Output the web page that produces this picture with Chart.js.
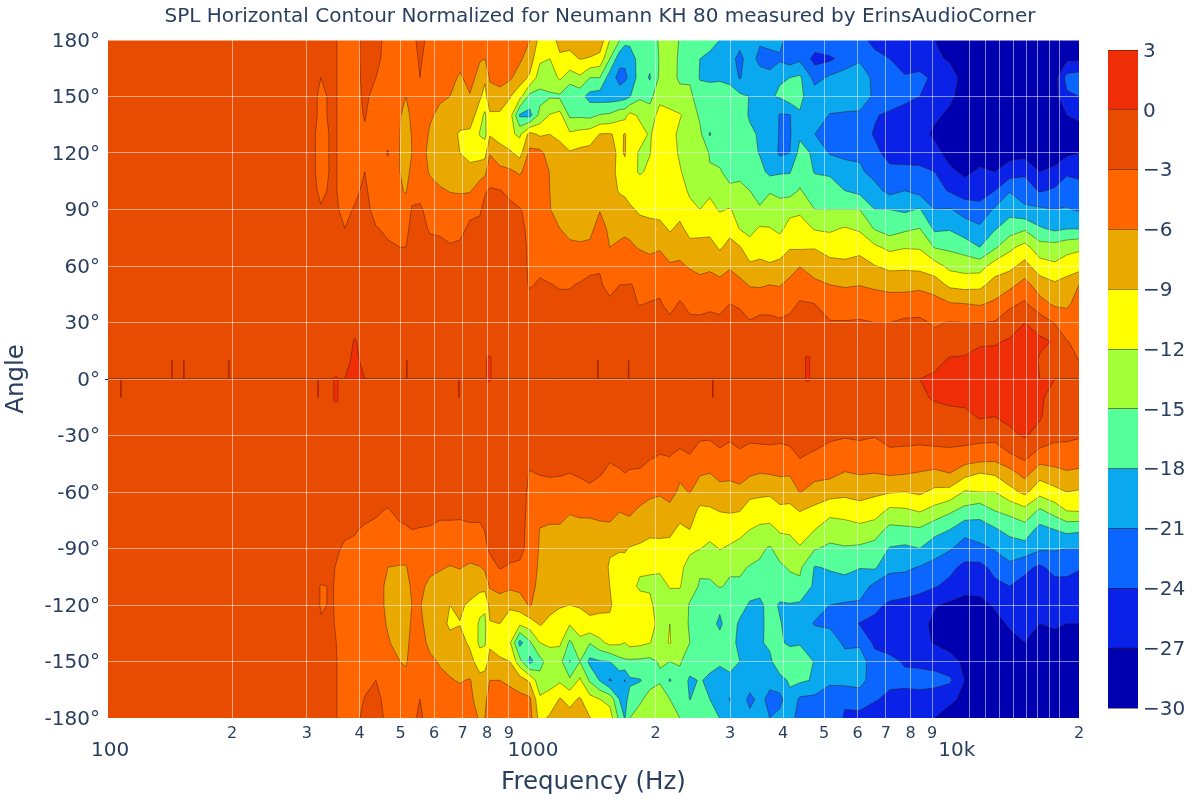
<!DOCTYPE html>
<html>
<head>
<meta charset="utf-8">
<title>SPL Horizontal Contour</title>
<script src="https://cdn.jsdelivr.net/npm/chart.js@4"></script>
<style>
    body { margin: 0; background: #fff; }
    #contour { position: absolute; left: 0; top: 0; }
    #colorbar { position: absolute; left: 1100px; top: 0; }
</style>
</head>
<body>
<canvas id="contour" width="1200" height="800"></canvas>
<canvas id="colorbar" width="100" height="800"></canvas>
<script>
const titleText = "SPL Horizontal Contour Normalized for Neumann KH 80 measured by ErinsAudioCorner";
const textColor = "#2a3f5f";
const fontFamily = "'DejaVu Sans', Verdana, sans-serif";

const levels = [-30, -27, -24, -21, -18, -15, -12, -9, -6, -3, 0, 3];
const bandColors = ["#0000b0", "#0a22e8", "#0a66ff", "#0aa8ee", "#55ff99", "#a2ff38", "#ffff00", "#eaa900", "#ff6600", "#e84c00", "#ef2d07"];

const angles = [180, 170, 160, 150, 140, 130, 120, 110, 100, 90, 80, 70, 60, 50, 40, 30, 20, 10, 0,
    -10, -20, -30, -40, -50, -60, -70, -80, -90, -100, -110, -120, -130, -140, -150, -160, -170, -180];

const freqs = [101.8, 305.1, 324, 345.8, 369.2, 389.8, 411.5, 436.9, 466.4, 497.9, 514.4, 531.5, 555.2,
    586.2, 619, 653.5, 690, 728.6, 769.2, 790.4, 812.1, 857.4, 905.3, 955.9, 1009, 1066, 1125, 1188, 1254,
    1325, 1399, 1477, 1559, 1646, 1692, 1738, 1836, 1938, 2046, 2161, 2282, 2409, 2544, 2686, 2836, 2995,
    3162, 3339, 3526, 3722, 3930, 4150, 4382, 4753, 5157, 5595, 6071, 6587, 7146, 7754, 8412, 9127, 9903,
    10744, 11658, 12650, 13720, 14890, 16160, 17530, 18710, 20000];

// one line per frequency, angle order as in angles
const spl = [
    [-2,-2,-2,-2,-2,-2,-2,-2,-2,-2,-2,-2,-2,-2,-2,-2,-2,-2,0,-2,-2,-2,-2,-2,-2,-2,-2,-2,-2,-2,-2,-2,-2,-2,-2,-2,-2],
    [-2,-2,-2,-2,-2,-2,-2,-2,-2,-2,-2,-2,-2,-2,-2,-2,-2,-2,0,-2,-2,-2,-2,-2,-2,-2,-2,-2,-2,-2,-2,-2,-2,-2,-2,-2,-2],
    [-2,-2,-3,-3.5,-3.5,-4,-4,-4,-3.5,-2.8,-2,-2,-2,-2,-2,-2,-2,-2,0,-2,-2,-2,-2,-2,-2,-2,-2,-2,-2,-3.1,-3.1,-2.9,-2,-2,-2,-2,-2],
    [-2.5,-2.5,-2.5,-2.5,-2.5,-2.5,-2.5,-2.5,-2.5,-2.5,-2,-2,-2,-2,-2,-2,-2,-2,0,-2,-2,-2,-2,-2,-2,-2,-2,-2.5,-2.8,-2.9,-2.9,-2.8,-2.6,-2.5,-2.5,-2.5,-2.5],
    [-4,-4,-4,-4,-4,-4,-4,-4,-4,-3.5,-3,-2.5,-2,-2,-2,-2,-2,-2,0,-2,-2,-2,-2,-2,-2,-2,-2.6,-3.3,-4,-4.5,-4.5,-4.5,-4,-4,-4,-4,-4],
    [-4,-4,-4,-4,-4,-4,-4,-4,-3.5,-2.8,-2.5,-2,-2,-2,-2,-2,0.4,1.5,0,-2,-2,-2,-2,-2,-2,-2,-2.8,-3.5,-4.5,-4.5,-4.5,-4.5,-4.5,-4.5,-4,-3.8,-3.5],
    [-2,-2,-2.2,-2.5,-2.8,-3.4,-3.2,-3,-2.5,-2.4,-2,-2,-2,-2,-2,-2,-2,-2,0,-2,-2,-2,-2,-2,-2,-2,-3.4,-4,-5,-5,-5,-5,-5,-5,-3.5,-2.9,-2.5],
    [-2,-2.3,-3,-3.8,-4.5,-4.5,-4.5,-4.5,-4.5,-3.6,-2.9,-2.4,-2,-2,-2,-2,-2,-2,0,-2,-2,-2,-2,-2,-2,-2.7,-3.5,-4.5,-5,-5,-5,-5,-5,-3.4,-3,-2.6,-2.5],
    [-4,-4,-4,-4,-4,-4,-2.8,-4,-4,-3.8,-3.3,-2.8,-2.3,-2,-2,-2,-2,-2,0,-2,-2,-2,-2,-2,-2,-3.2,-3.8,-5,-6,-6.5,-6.5,-6.2,-5.8,-5,-4,-3.5,-3.3],
    [-5,-5,-5,-5.3,-5.8,-6,-6.1,-6,-5.6,-4.5,-3.8,-3,-2.4,-2,-2,-2,-2,-2,0,-2,-2,-2,-2,-2,-2,-2.3,-3.5,-4.5,-6.2,-7,-7.5,-7.3,-6.8,-6,-5,-4.5,-4],
    [-4.5,-4.5,-5,-6,-7,-7.5,-7.5,-7,-6.3,-4.5,-3.5,-3,-2.4,-2,-2,-2,-2,-2,0,-2,-2,-2,-2,-2,-2,-2.4,-3.2,-4.5,-6.2,-7.2,-8,-7.5,-7,-6.4,-5,-4.5,-4],
    [-3.5,-4,-4.2,-4.5,-5.4,-5.8,-6,-5.3,-3.8,-2.8,-2.5,-2.3,-2,-2,-2,-2,-2,-2,0,-2,-2,-2,-2,-2,-2,-2.2,-3,-4.2,-5,-5.5,-6,-5.5,-5,-4.5,-4.2,-3.6,-3.5],
    [-2.5,-2.7,-3,-3.6,-4.2,-4.5,-5,-4.5,-3.4,-2.8,-2.4,-2,-2,-2,-2,-2,-2,-2,0,-2,-2,-2,-2,-2,-2,-2.2,-3.1,-4,-5,-5.5,-5.8,-5.5,-5,-4.5,-4,-3,-2.6],
    [-3.5,-4,-4.5,-5,-5.7,-6.3,-6.6,-6.3,-5,-3.5,-3.2,-2.5,-2,-2,-2,-2,-2,-2,0,-2,-2,-2,-2,-2,-2,-2.2,-3.2,-4.5,-5.5,-6.5,-7.5,-7,-6.6,-5.5,-5,-4.5,-4],
    [-4,-4.5,-5,-5.7,-6.5,-7.3,-7.5,-7,-5.7,-4.3,-3.3,-2.6,-2,-2,-2,-2,-2,-2,0,-2,-2,-2,-2,-2,-2,-2.5,-3.5,-4.5,-5.8,-6.8,-7.5,-7.8,-7,-6.2,-5.5,-5,-4.6],
    [-4.5,-5,-5.5,-6,-7,-8,-8.5,-7.5,-6.1,-5,-3.8,-2.8,-2.5,-2,-2,-2,-2,-2,0,-2,-2,-2,-2,-2,-2,-2.4,-3.6,-5,-6.1,-7,-9,-9.5,-8,-6.8,-5.8,-5,-4.6],
    [-5,-5.5,-6.2,-6.5,-7.8,-9.3,-9,-8,-6.2,-5,-3.5,-2.7,-2.2,-2,-2,-2,-2,-2,0,-2,-2,-2,-2,-2,-2,-2.3,-3.8,-5,-5.9,-7,-8.5,-9.1,-8,-7,-6.2,-5,-4.5],
    [-5,-5.5,-5.5,-6.1,-7,-9.8,-10,-8,-6.3,-3.4,-2.7,-2.5,-2,-2,-2,-2,-2,-2,0,-2,-2,-2,-2,-2,-2,-2.2,-3.5,-5,-6.3,-7.5,-9.5,-9.8,-9.5,-8,-5.8,-5.5,-4.8],
    [-5.8,-5.9,-6.5,-8.5,-11,-12.2,-10,-7.5,-4.2,-3.2,-2.6,-2.2,-2,-2,-2,-2,-2,-2,0,-2,-2,-2,-2,-2,-2,-2.2,-3.5,-4.5,-6.1,-8,-11,-12.5,-12.6,-10.5,-8,-7,-6.3],
    [-6,-6,-8.5,-10,-12.5,-12.8,-10,-6.8,-3.2,-2.5,-2.3,-2,-2,-2,-2,-2,-2,-2,0,-2,-2,-2,-2,-2,-2,-2,-2.9,-3.5,-5.5,-8,-11.5,-12.6,-12.3,-10.5,-7.5,-6.5,-6],
    [-5.8,-5.5,-5.7,-7,-9.5,-9.3,-6.2,-4,-2.8,-2.5,-2,-2,-2,-2,-2,-2,-2,-2,0,-2,-2,-2,-2,-2,-2,-2,-2.5,-2.6,-4,-5.7,-8,-9.2,-9.5,-8,-6,-5,-5],
    [-4.5,-4.8,-5,-7,-9.5,-10.5,-7.5,-5.3,-2.9,-2.5,-2,-2,-2,-2,-2,-2,-2,-2,0,-2,-2,-2,-2,-2,-2,-2,-2,-2,-2.8,-5,-7.5,-9,-10.5,-8.5,-6,-5,-4.5],
    [-4,-4,-5.5,-8.8,-10.5,-11.5,-8.5,-5.5,-3.5,-2.5,-2,-2,-2,-2,-2,-2,-2,-2,0,-2,-2,-2,-2,-2,-2,-2,-2,-2,-3.3,-5.4,-8.5,-10.5,-11.5,-9,-6.5,-5,-4.6],
    [-5,-5.5,-7.5,-11,-18.5,-12.5,-10,-6.4,-4,-2.9,-2.5,-2,-2,-2,-2,-2,-2,-2,0,-2,-2,-2,-2,-2,-2,-2,-2.2,-2.2,-3.5,-5.2,-7.5,-11.5,-19,-14,-7.5,-5.2,-4.5],
    [-6,-7.5,-9.5,-16,-19,-8,-5.3,-4.5,-3.5,-3.5,-3.5,-3.5,-3.4,-3.2,-2.2,-2,-2,-2,0,-2,-2,-2,-2.5,-3.1,-3.5,-3.7,-3.8,-4,-4.5,-5,-5.7,-10.5,-15.5,-19,-9.5,-5.5,-5],
    [-10,-11.5,-13.5,-16,-14,-9.5,-5.2,-4.3,-3.9,-3.7,-3.6,-3.5,-3.5,-2.7,-2.4,-2,-2,-2,0,-2,-2,-2,-2,-2.9,-3.8,-5,-6.1,-6.3,-6.5,-6.8,-7.5,-8.7,-12,-16,-14,-11.5,-10],
    [-10.5,-12,-14,-15.3,-11.8,-9,-7.3,-6.1,-6,-5.9,-5,-4.4,-3.9,-2.9,-2.3,-2,-2,-2,0,-2,-2,-2,-2,-2.8,-3.7,-5,-6.4,-7,-7.3,-7.5,-8,-9.8,-11.5,-13.5,-13,-11,-8.5],
    [-8,-9.5,-11.5,-15.5,-11,-9.5,-8.2,-8,-7.6,-7,-6,-4.5,-4,-3.2,-2.4,-2,-2,-2,0,-2,-2,-2,-2,-2.9,-3.5,-5.5,-6.2,-7.5,-8,-8.5,-8.8,-10,-11.5,-14,-12.5,-8.8,-8.2],
    [-8,-9.8,-13.5,-17.8,-15.5,-11.5,-8.7,-8.2,-8,-7.5,-6.6,-5.6,-4.6,-3.2,-2.3,-2,-2,-2,0,-2,-2,-2,-2.2,-3,-3.8,-5.8,-6.8,-7.5,-7.8,-8,-9,-11.8,-15.5,-18.2,-14.5,-9.8,-8],
    [-7.5,-8.9,-12.5,-17,-15.5,-11,-8.2,-7.5,-7.3,-7.2,-7,-5.6,-4.2,-2.8,-2.3,-2,-2,-2,0,-2,-2,-2,-2.2,-2.8,-3.6,-5.4,-7,-8,-8,-8.2,-8.8,-10,-13,-15,-11.5,-8.7,-8],
    [-7,-9.2,-15,-19,-15.8,-10.5,-8,-7.5,-7.2,-7,-7,-5.3,-3.5,-2.5,-2.3,-2,-2,-2,0,-2,-2,-2,-2,-2.4,-3.5,-5.5,-6.8,-8,-8.2,-8.2,-8.5,-9.4,-14.8,-18.8,-15.4,-11,-8.9],
    [-7,-10,-15,-19.5,-14.8,-8.9,-8,-7.5,-7.2,-6.2,-4.5,-4,-3.2,-2.7,-2.2,-2,-2,-2,0,-2,-2,-2,-2,-2.8,-4,-5.3,-6.6,-7.6,-8,-8.3,-8.6,-9.5,-12.8,-18.2,-18.2,-12,-9.8],
    [-12,-15,-19.5,-19.5,-14.5,-8.8,-8,-7.8,-7.8,-7,-6.8,-6,-4.9,-3.8,-2.5,-2,-2,-2,0,-2,-2,-2,-2.6,-3.5,-5,-5.7,-6.2,-8.8,-9.2,-9,-8.8,-9.3,-11.2,-18,-21.3,-13,-10.5],
    [-15,-20,-22,-19.5,-13,-9.6,-9.6,-10,-9.3,-7.5,-6.8,-5.5,-4,-3,-2.5,-2,-2,-2,0,-2,-2,-2,-2.7,-3.1,-5,-5.9,-7.5,-8.8,-9.8,-9.8,-9.8,-10,-11.5,-16,-20,-18.2,-16],
    [-17,-20.5,-21.5,-19,-13,-8.8,-8.7,-10.2,-9.5,-8,-6.6,-5.3,-4.3,-3,-2.5,-2,-2,-2,0,-2,-2,-2,-2.5,-3,-4.8,-5.7,-7.2,-8.7,-10,-10,-10,-10.2,-12,-15.5,-21.2,-19,-18.2],
    [-17,-20,-20.5,-18.2,-11,-10,-10.8,-11,-10.2,-8.5,-6.8,-5.5,-4.6,-2.9,-2.6,-2,-2,-2,0,-2,-2,-2,-2.6,-3.1,-4.5,-5.6,-7,-9.2,-10.5,-11,-10.5,-10.3,-11,-15.5,-18.5,-17,-15],
    [-16.5,-16.5,-16.5,-15.5,-12.5,-11,-12.3,-12.3,-10.5,-9.5,-7.8,-6.3,-4.2,-3.3,-3.1,-2,-2,-2,0,-2,-2,-2,-2.4,-3.2,-4.8,-6.4,-8.2,-9.3,-11.5,-12.5,-10.5,-10,-11.3,-15.6,-18.2,-16,-12.5],
    [-17,-17,-18.3,-16,-13.5,-12.3,-12.1,-11.5,-10.5,-9.6,-8.3,-6.5,-5.2,-3.8,-2.9,-2.2,-2,-2,0,-2,-2,-2,-2.7,-3.7,-5.4,-7,-8.2,-10,-11.8,-12.3,-11.5,-10.8,-11.9,-15.8,-17,-13,-12.5],
    [-14.5,-14.8,-14.5,-12.8,-11,-10.5,-10.5,-11,-10.2,-10,-8.2,-6.3,-4.6,-3.5,-2.8,-2.3,-2,-2,0,-2,-2,-2.2,-3,-3.9,-5.6,-7.5,-8.3,-9.8,-11.5,-13,-13.2,-13,-13,-14.7,-15.5,-12.5,-12.3],
    [-13.5,-13.5,-13.8,-13,-11.5,-11,-11,-10.8,-10,-10.2,-9.3,-7.8,-5.6,-4.2,-3.7,-2.5,-2,-2,0,-2,-2,-2.2,-2.9,-3.7,-5,-6.8,-8.3,-10,-10.5,-11.8,-13.5,-12,-11.8,-15,-18.3,-15,-13.8],
    [-15.2,-15.5,-15.5,-14,-11.8,-12.6,-12.3,-11.8,-10.5,-9.8,-8.5,-6.7,-5.7,-4,-2.8,-2.3,-2,-2,0,-2,-2,-2.3,-3.3,-5.5,-6.5,-7.8,-9.6,-10.5,-11.4,-11.8,-13.5,-13.5,-14,-14.8,-15.6,-16,-15],
    [-16,-17.8,-15.5,-14.2,-13,-13,-13,-13,-12.6,-11,-9.8,-8.3,-6.2,-5,-3.5,-2.6,-2,-2,0,-2,-2,-2.4,-3,-4.6,-5.9,-7.4,-9,-11.5,-13,-14,-15.2,-15.3,-15,-16,-18.6,-18.1,-15.5],
    [-15.5,-18,-18.2,-16.8,-15.5,-14.3,-13.5,-13.3,-13,-12,-10,-8,-6.6,-5.3,-3.6,-2.6,-2.2,-2,0,-2,-2,-2.7,-3.7,-5.8,-7.2,-9.7,-10.8,-11.9,-14.7,-15.2,-15.8,-16,-15.5,-17,-17.8,-16.8,-15.5],
    [-16.5,-19,-18.5,-16.5,-15.8,-18.3,-15.2,-14.8,-12.6,-11,-10,-7.8,-6.5,-4.8,-3.3,-2.6,-2,-2,0,-2,-2,-2.8,-3.6,-6,-7.5,-9.4,-10.8,-12.7,-14,-15.6,-16.2,-17,-17,-17.2,-18.5,-18,-16],
    [-18,-19,-18.3,-16.8,-16,-15.6,-15.7,-14.8,-13.5,-12.3,-10.3,-9.4,-7,-5.3,-3.4,-2.7,-2,-2,0,-2,-2,-2.6,-3.2,-5,-7.2,-8.9,-10.7,-11.9,-13.5,-14.8,-17.5,-18.5,-17,-17.8,-18.6,-18.4,-18.1],
    [-18.2,-20,-18.6,-17,-16.3,-16.2,-16,-15.8,-14.5,-11.8,-10,-8,-6.3,-4.7,-3,-2.6,-2,-2,0,-2,-2,-2.8,-3.4,-5,-7.5,-8.7,-11,-12.3,-14.6,-15.4,-16,-16.5,-17,-17.2,-18.6,-21.2,-19],
    [-20,-21.8,-21.3,-17.3,-16.8,-16.5,-16.3,-15.5,-14.5,-13,-12.2,-8.8,-7.3,-5.2,-3.2,-2.5,-2,-2,0,-2,-2,-2.5,-3.2,-5,-6.7,-8.9,-11.3,-12.8,-14.5,-15.5,-16.8,-18.5,-18.7,-18,-18.5,-19,-19],
    [-19,-19.5,-18.5,-18.1,-18.3,-17.5,-17,-15.5,-15,-14,-13,-10.8,-8.5,-6.2,-4.3,-2.8,-2.3,-2,0,-2,-2,-2.6,-3.6,-5.6,-8,-10.5,-12,-13.5,-15.2,-16.5,-18.4,-18.8,-20.8,-18.2,-19,-22,-20],
    [-20.5,-22,-19.5,-18.5,-18.6,-18.3,-18.2,-17,-16,-14.7,-11.7,-10.2,-8.3,-6.4,-3.6,-2.6,-2,-2,0,-2,-2,-2.5,-3.6,-6,-8.2,-11,-12.4,-14.5,-15.4,-17,-18.6,-18.6,-18.3,-18.3,-19,-20,-20],
    [-20,-22,-20.3,-18.3,-18.1,-18.4,-19,-18.8,-15.2,-13.8,-11.9,-10.3,-8.7,-6,-3.6,-2.6,-2,-2,0,-2,-2,-2.6,-3.4,-5.8,-8.7,-10,-13,-15.3,-16,-16.8,-17,-17.2,-17.5,-18.6,-20,-22,-21],
    [-20,-21.5,-18.2,-17.7,-21.3,-21.3,-21.5,-18.4,-15.2,-14.7,-12.8,-10.2,-8.3,-6.2,-4,-2.7,-2,-2,0,-2,-2,-2.7,-3.4,-5.6,-7.8,-9.6,-11.6,-13.8,-15.5,-16.5,-18.3,-17.8,-17.7,-16,-19,-22,-20],
    [-22.5,-22.5,-18,-16.3,-21.2,-21.3,-21,-18.2,-16,-13,-10.8,-9.2,-7.5,-5,-3.6,-2.5,-2,-2,0,-2,-2,-2.5,-3.4,-5.7,-7.7,-9.8,-11.4,-13.6,-14.7,-16,-18.2,-19,-18.4,-16.5,-17.6,-18.7,-20.5],
    [-22,-21.5,-17.5,-17.5,-18.2,-18.5,-17,-16,-14.8,-12.7,-10.4,-9.4,-6.1,-4,-2.8,-2.4,-2,-2,0,-2,-2,-2,-2.8,-3.7,-5.9,-8.9,-11,-12.2,-14.5,-15.6,-18.5,-19,-18.3,-16,-17.5,-21.5,-21.5],
    [-22,-25,-22,-19.5,-19,-21,-18.5,-18.2,-16.3,-15,-12.3,-9.2,-7,-5.5,-3,-2.6,-2,-2,0,-2,-2,-2.2,-3.2,-5.2,-7,-9.9,-12,-14.8,-18.2,-18.6,-19.5,-21.3,-18.5,-18.2,-18.3,-21.8,-23],
    [-21.5,-24.5,-20.5,-19,-21.2,-22,-21.2,-18.5,-16.5,-15,-12.5,-10.2,-8,-6,-4.5,-2.8,-2.3,-2,0,-2,-2,-2.7,-3.6,-5.2,-7.8,-11,-13.8,-15.5,-17.7,-19.3,-21,-21.5,-19.5,-19.5,-20.3,-23,-21],
    [-22.5,-23,-19.5,-18.8,-21.5,-22,-21.8,-19.5,-18,-15,-11.8,-9.9,-8.5,-6.2,-4.8,-2.8,-2.3,-2,0,-2,-2,-2.9,-3.6,-6.2,-8.4,-10.5,-13.7,-15.2,-17.2,-19.2,-21.3,-22,-21.5,-20,-20,-23.4,-24.5],
    [-23,-21.5,-18.8,-19.5,-21.5,-23,-21.5,-20.5,-18.8,-15,-12.5,-9.8,-8,-6.1,-4,-2.8,-2.3,-2,0,-2,-2,-2.7,-3.8,-5.8,-8.1,-10,-13,-15.5,-17.9,-19.5,-21.5,-24.2,-21.5,-19.5,-20,-22.5,-25],
    [-25,-23,-22,-21.5,-23.8,-24.2,-23.5,-22,-20,-18,-15.3,-11.5,-8.9,-6.4,-4.8,-3,-2.4,-2,0,-2,-2,-2.9,-4,-6,-8.5,-10.5,-13.7,-16,-17.6,-21.8,-23.5,-24.5,-24.6,-22.8,-22.5,-23.6,-26.5],
    [-26,-24,-23,-22.5,-24.5,-25,-24.7,-23.5,-21.9,-18,-16.5,-12.7,-9.7,-7,-4.5,-3,-2.5,-2,0,-2,-2,-2.5,-3.3,-5.6,-8.8,-12.7,-15.8,-18.2,-20.3,-22.5,-24.4,-25,-24.9,-23.5,-23,-25,-26],
    [-25.5,-25,-23.8,-23,-25.5,-26,-25.3,-23.2,-21,-18.5,-15.6,-12.2,-9.5,-7.3,-4,-2.7,-2.3,-2,0,-2,-2,-2.6,-3.3,-5.8,-9,-12.5,-15.6,-18.6,-20.4,-22.8,-24.7,-25.2,-25,-24.2,-23.5,-24.7,-26.5],
    [-26,-25,-23.5,-24,-25.5,-26,-26,-23,-22,-17.8,-15,-12.3,-9.8,-6.9,-3.8,-2.7,-2,-1.5,0,-0.5,-1.5,-2.7,-3.3,-6.2,-8.5,-11.8,-15.4,-18,-21.2,-23.2,-25.2,-26.3,-26.2,-24.3,-23.5,-24.5,-26],
    [-27,-26.5,-24.4,-24.2,-26.5,-27.5,-26,-24,-22.8,-21,-18.6,-15.2,-10.8,-7.5,-4.8,-3.2,-2.5,-0.8,0.5,0.3,-1.2,-2.6,-3.3,-6.7,-9.7,-13,-17,-19.7,-22,-23.8,-26.8,-27.5,-27.2,-25,-23,-25.5,-27],
    [-27.5,-27.3,-25.8,-26.5,-27.5,-28,-28,-26.4,-24.3,-20.8,-18.3,-15.6,-12.8,-9.6,-5.8,-2.9,-1.5,0.3,1,0.6,-0.8,-2.3,-3.4,-6,-10,-14.5,-18,-20.7,-23.3,-24.7,-27.5,-28,-28,-26,-23.5,-26.5,-28],
    [-28,-28,-28,-28,-28,-28.5,-28.5,-27.5,-25.8,-22,-19.8,-16.3,-13.3,-10,-6,-3,-1.3,0.4,1,1,-0.9,-2.3,-3.6,-8,-12.3,-16,-20,-22.3,-24.7,-26.5,-27.5,-28,-28,-27.5,-27,-27.5,-28],
    [-28,-28,-28,-28,-28,-28,-28,-26.6,-25.3,-23,-20.5,-18,-13.3,-9.8,-6.3,-3.1,-0.3,0.7,1.2,1,0.3,-2.3,-4,-9,-12,-17,-19.2,-21.8,-24.8,-26.3,-27.6,-28,-28,-28,-28,-28,-28],
    [-28,-28,-28,-28,-28,-28,-28,-27,-24,-20.6,-18.3,-15.5,-10.6,-7.8,-5.5,-2.8,-0.3,1,1.5,1.3,0,-2.2,-4.4,-8.6,-12,-15,-18.4,-20.7,-23.2,-24.6,-26.8,-27.5,-28,-28,-28,-28,-28],
    [-28,-28,-28,-28,-28,-28,-28,-25.5,-21.2,-19,-16.6,-12.7,-9.8,-6.8,-3.6,-1.5,0.3,1.3,2,1.5,0.7,-0.7,-3.2,-7,-10,-14.2,-17,-19.7,-21.6,-24,-26,-26.8,-27.5,-28,-28,-28,-28],
    [-28,-28,-28,-28,-28,-28,-28,-24.6,-22.3,-20.5,-15.5,-11,-8,-5,-2.6,0,1.8,2,2.5,2,1.5,0.3,-2,-5,-8.3,-13,-16.3,-19.2,-23.3,-25,-26,-26.5,-27,-27.5,-28,-28,-28],
    [-28,-28,-28,-28,-28,-28,-28,-27,-24.3,-20.5,-17.7,-13.8,-10.7,-7.4,-5,-1.3,0.5,-0.3,0,0.4,0.3,-1,-4,-7.8,-11,-15.5,-19,-20.6,-24.5,-25.5,-26.5,-27,-27.5,-28,-28,-28,-28],
    [-28,-28,-28,-28,-28,-28,-28,-26.5,-23.5,-21,-18.7,-13.8,-11.5,-8.5,-6.5,-3.2,-0.2,-1.2,0,-1,-1.8,-2.4,-4,-7,-9.8,-13.8,-18,-20.7,-23,-25,-26,-26.8,-27.5,-28,-28,-28,-28],
    [-28,-27.5,-23,-24.5,-27,-28,-27.5,-24.5,-22.2,-20.8,-18.2,-13,-10.6,-7.7,-6.5,-4.5,-2.9,-1.2,0,-1,-1.7,-2.7,-3.6,-6.4,-9,-12,-17.2,-21,-23,-25,-26,-27,-27.5,-28,-28,-28,-28],
    [-28,-27.5,-22.5,-24,-26.5,-28,-27,-25,-22.5,-21.3,-18.2,-12.5,-10.3,-6,-5,-4,-3.5,-3.1,0,-1.5,-2.2,-2.8,-4,-6.7,-9.3,-11.8,-17.5,-21,-23.7,-25.5,-26,-27,-27.5,-28,-28,-28,-28]
];

// on-axis peaks too narrow for the grid above
const peakFreqs = [109.2, 144.2, 153.8, 196.5, 319, 517, 686, 1461, 1727, 2730];
const peakAngles = [-10, 10, 10, 10, -10, 10, -10, 10, 10, -10];
const lensFreqs = [351.5, 808, 4572];
const lensAngles = [-11, 11, 11];

const gridFreqs = [200, 300, 400, 500, 600, 700, 800, 900, 1000, 2000, 3000, 4000, 5000, 6000, 7000, 8000, 9000,
    11000, 12000, 13000, 14000, 15000, 16000, 17000, 18000];
const minorLabels = { 200: "2", 300: "3", 400: "4", 500: "5", 600: "6", 700: "7", 800: "8", 900: "9",
    2000: "2", 3000: "3", 4000: "4", 5000: "5", 6000: "6", 7000: "7", 8000: "8", 9000: "9", 20000: "2" };
const majorLabels = { 103: "100", 1027: "1000", 10287: "10k" };
const xTicks = gridFreqs.concat([20000], [103, 1027, 10287]).sort((a, b) => a - b);

// one cell clipped to z >= level, walking its corners in order
function clipCell(corners, level) {
    const start = corners.findIndex(c => c.z >= level);
    if (start < 0) return null;
    const poly = [];
    const crossings = [];
    for (let k = 0; k < 4; k++) {
        const a = corners[(start + k) % 4];
        const b = corners[(start + k + 1) % 4];
        if (a.z >= level) poly.push(a);
        if ((a.z >= level) !== (b.z >= level)) {
            const t = (level - a.z) / (b.z - a.z);
            const p = { x: a.x + (b.x - a.x) * t, y: a.y + (b.y - a.y) * t };
            poly.push(p);
            crossings.push(p);
        }
    }
    return { poly, crossings };
}

const contourPlugin = {
    id: "contourBands",
    beforeDatasetsDraw(chart) {
        const { ctx, chartArea, scales } = chart;
        const xs = freqs.map(f => scales.x.getPixelForValue(f));
        const ys = angles.map(a => scales.y.getPixelForValue(a));

        ctx.save();
        ctx.beginPath();
        ctx.rect(chartArea.left, chartArea.top, chartArea.right - chartArea.left, chartArea.bottom - chartArea.top);
        ctx.clip();
        ctx.fillStyle = bandColors[0];
        ctx.fillRect(chartArea.left, chartArea.top, chartArea.right - chartArea.left, chartArea.bottom - chartArea.top);

        for (let b = 1; b < bandColors.length; b++) {
            const lines = new Path2D();
            const fill = new Path2D();
            for (let i = 0; i < freqs.length - 1; i++) {
                for (let j = 0; j < angles.length - 1; j++) {
                    const cell = clipCell([
                        { x: xs[i], y: ys[j], z: spl[i][j] },
                        { x: xs[i + 1], y: ys[j], z: spl[i + 1][j] },
                        { x: xs[i + 1], y: ys[j + 1], z: spl[i + 1][j + 1] },
                        { x: xs[i], y: ys[j + 1], z: spl[i][j + 1] }
                    ], levels[b]);
                    if (!cell) continue;
                    cell.poly.forEach((p, n) => n ? fill.lineTo(p.x, p.y) : fill.moveTo(p.x, p.y));
                    fill.closePath();
                    for (let n = 0; n + 1 < cell.crossings.length; n += 2) {
                        lines.moveTo(cell.crossings[n].x, cell.crossings[n].y);
                        lines.lineTo(cell.crossings[n + 1].x, cell.crossings[n + 1].y);
                    }
                }
            }
            ctx.fillStyle = bandColors[b];
            ctx.fill(fill);
            ctx.strokeStyle = "rgba(50, 20, 0, 0.55)";
            ctx.lineWidth = 0.8;
            ctx.stroke(lines);
        }
        ctx.restore();
    }
};

function peakSegments(freqList, angleList) {
    const points = [];
    freqList.forEach((f, i) => {
        points.push({ x: f, y: 0 }, { x: f, y: angleList[i] }, { x: f, y: NaN });
    });
    return points;
}

function createContourChart() {
    new Chart(document.getElementById("contour").getContext("2d"), {
        type: "scatter",
        data: {
            datasets: [
                { label: "peaks", data: peakSegments(peakFreqs, peakAngles), showLine: true, spanGaps: false,
                    pointRadius: 0, borderColor: "#a32400", borderWidth: 1.5, order: 3 },
                { label: "lens outline", data: peakSegments(lensFreqs, lensAngles), showLine: true, spanGaps: false,
                    pointRadius: 0, borderColor: "#a32400", borderWidth: 5, borderCapStyle: "round", order: 2 },
                { label: "lens", data: peakSegments(lensFreqs, lensAngles), showLine: true, spanGaps: false,
                    pointRadius: 0, borderColor: "#ef2d07", borderWidth: 3.5, borderCapStyle: "round", order: 1 }
            ]
        },
        options: {
            responsive: false,
            animation: false,
            plugins: {
                legend: { display: false },
                tooltip: { enabled: false },
                title: {
                    display: true,
                    text: titleText,
                    color: textColor,
                    font: { family: fontFamily, size: 20, weight: "normal", lineHeight: 1.2 },
                    padding: { top: 5, bottom: 11 }
                }
            },
            scales: {
                x: {
                    type: "logarithmic",
                    min: 101.8,
                    max: 20000,
                    afterBuildTicks: scale => { scale.ticks = xTicks.map(v => ({ value: v })); },
                    afterFit: scale => { scale.height = 82; },
                    border: { display: false },
                    grid: {
                        z: 1,
                        drawTicks: false,
                        lineWidth: 1,
                        color: ctx => (ctx.tick && gridFreqs.includes(ctx.tick.value)) ? "rgba(255, 255, 255, 0.5)" : "rgba(0, 0, 0, 0)"
                    },
                    ticks: {
                        autoSkip: false,
                        maxRotation: 0,
                        padding: 7,
                        color: textColor,
                        font: ctx => majorLabels[ctx.tick.value]
                            ? { family: fontFamily, size: 20, lineHeight: 0.85 }
                            : { family: fontFamily, size: 16, lineHeight: 1.1 },
                        callback: value => majorLabels[value] ? ["", majorLabels[value]] : (minorLabels[value] || "")
                    },
                    title: {
                        display: true,
                        text: "Frequency (Hz)",
                        color: textColor,
                        font: { family: fontFamily, size: 24.5, weight: "normal" },
                        padding: { top: 0, bottom: 3 }
                    }
                },
                y: {
                    type: "linear",
                    min: -180,
                    max: 180,
                    afterFit: scale => { scale.width = 108; },
                    border: { display: false },
                    grid: {
                        z: 1,
                        tickLength: 3,
                        lineWidth: 1,
                        color: "rgba(255, 255, 255, 0.5)",
                        tickColor: ctx => ctx.tick.value === 0 ? "#222" : "rgba(0, 0, 0, 0)"
                    },
                    ticks: {
                        stepSize: 30,
                        padding: 5,
                        labelOffset: 1.5,
                        color: textColor,
                        font: { family: fontFamily, size: 20 },
                        callback: value => `${value}°`
                    },
                    title: {
                        display: true,
                        text: "Angle",
                        color: textColor,
                        font: { family: fontFamily, size: 24.5, weight: "normal" },
                        padding: { top: 2, bottom: 0 }
                    }
                },
                // empty axis that keeps room for the colorbar, so the title centres on the page
                spacer: {
                    position: "right",
                    afterFit: scale => { scale.width = 121; },
                    border: { display: false },
                    grid: { display: false },
                    ticks: { display: false }
                }
            }
        },
        plugins: [contourPlugin]
    });
}

function createColorbar() {
    new Chart(document.getElementById("colorbar").getContext("2d"), {
        type: "bar",
        data: {
            labels: [""],
            datasets: bandColors.map((color, i) => ({
                data: [[levels[i], levels[i + 1]]],
                backgroundColor: color,
                borderWidth: 0,
                grouped: false,
                barPercentage: 1,
                categoryPercentage: 1
            }))
        },
        options: {
            responsive: false,
            animation: false,
            layout: { padding: { left: 8, top: 50, bottom: 92 } },
            plugins: { legend: { display: false }, tooltip: { enabled: false } },
            scales: {
                x: { display: false },
                y: {
                    position: "right",
                    min: -30,
                    max: 3,
                    afterFit: scale => { scale.width = 62; },
                    border: { display: false },
                    grid: { z: 1, drawTicks: false, color: "rgba(60, 20, 0, 0.5)" },
                    ticks: {
                        stepSize: 3,
                        padding: 5,
                        labelOffset: 1.5,
                        color: textColor,
                        font: { family: fontFamily, size: 20 },
                        callback: value => String(value).replace("-", "\u2212")
                    }
                }
            }
        }
    });
}

document.addEventListener("DOMContentLoaded", () => {
    createContourChart();
    createColorbar();
});
</script>
</body>
</html>
